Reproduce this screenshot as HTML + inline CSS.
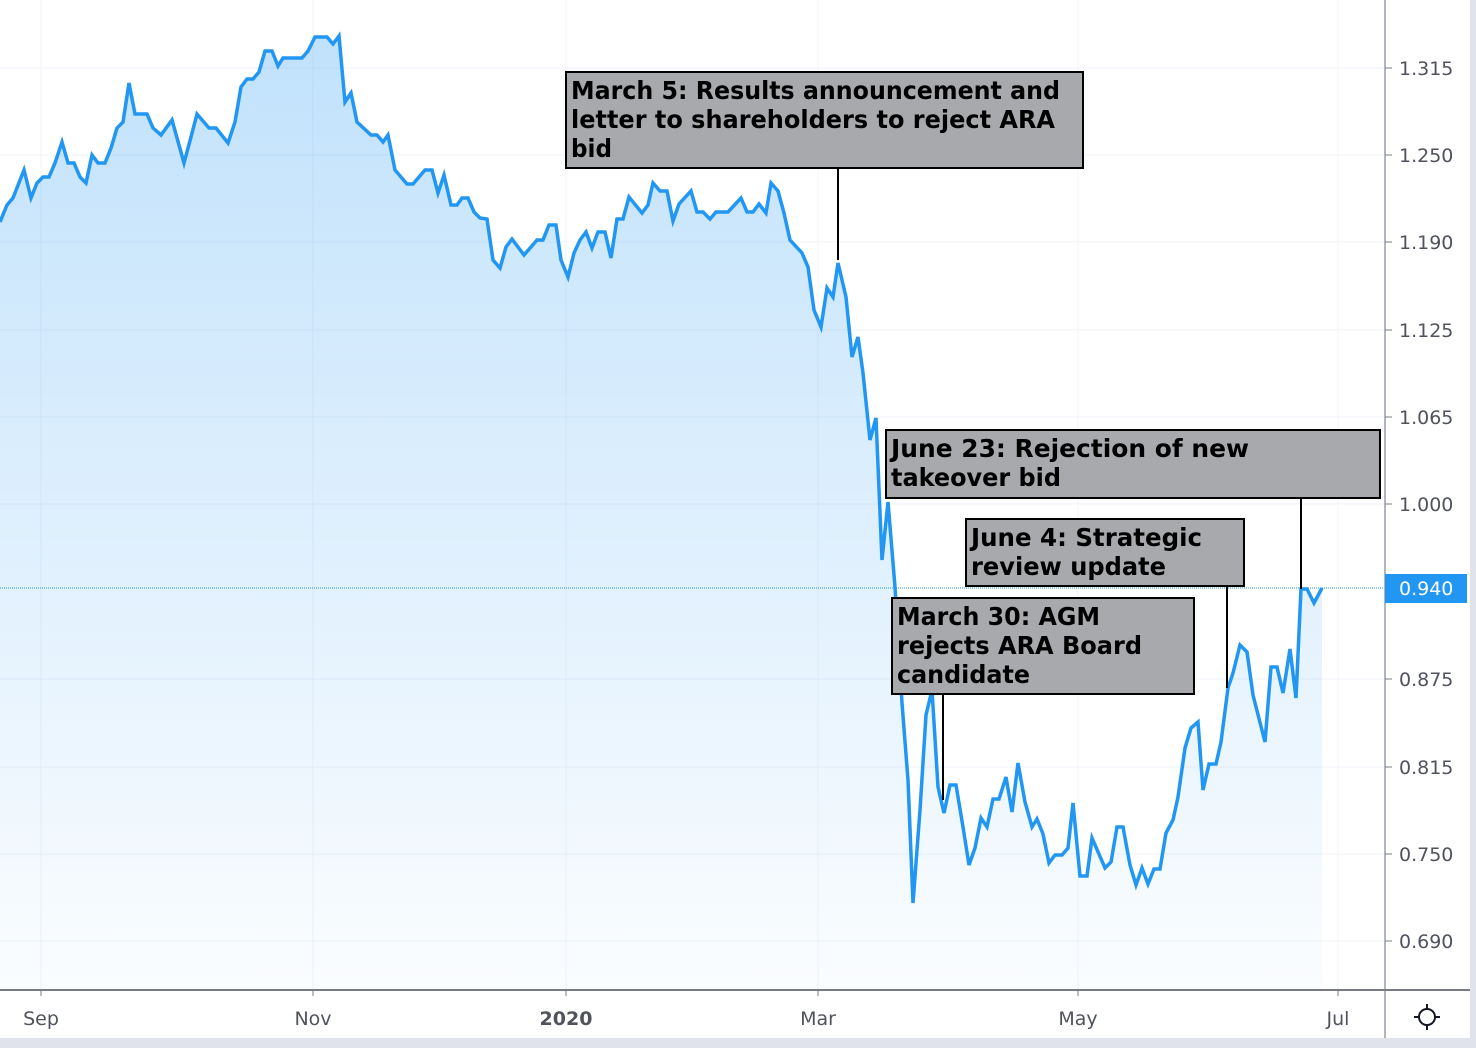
<!DOCTYPE html>
<html><head><meta charset="utf-8"><style>
html,body{margin:0;padding:0;background:#fff;width:1476px;height:1048px;overflow:hidden}
svg{display:block}
.ax{font-family:"DejaVu Sans","Liberation Sans",sans-serif;font-size:19px;fill:#50535e}
.an{font-family:"DejaVu Sans","Liberation Sans",sans-serif;font-size:25px;font-weight:bold;fill:#000}
</style></head><body>
<svg width="1476" height="1048" viewBox="0 0 1476 1048">
<defs><linearGradient id="g" x1="0" y1="0" x2="0" y2="1"><stop offset="0" stop-color="#2196f3" stop-opacity="0.28"/><stop offset="1" stop-color="#2196f3" stop-opacity="0.02"/></linearGradient></defs>
<g stroke="#f0f3fa" stroke-width="1">
<line x1="0" y1="68" x2="1385" y2="68"/><line x1="0" y1="155" x2="1385" y2="155"/><line x1="0" y1="242" x2="1385" y2="242"/><line x1="0" y1="330" x2="1385" y2="330"/><line x1="0" y1="417" x2="1385" y2="417"/><line x1="0" y1="504" x2="1385" y2="504"/><line x1="0" y1="679" x2="1385" y2="679"/><line x1="0" y1="767" x2="1385" y2="767"/><line x1="0" y1="854" x2="1385" y2="854"/><line x1="0" y1="941" x2="1385" y2="941"/>
<line x1="41" y1="0" x2="41" y2="990"/><line x1="313" y1="0" x2="313" y2="990"/><line x1="566" y1="0" x2="566" y2="990"/><line x1="818" y1="0" x2="818" y2="990"/><line x1="1078" y1="0" x2="1078" y2="990"/><line x1="1338" y1="0" x2="1338" y2="990"/>
</g>
<polygon fill="url(#g)" points="0,990 0,222 7,205 13,198 24,170 31,198 37,183 43,177 49,177 55,163 62,142 68,163 74,163 80,177 86,183 92,155 98,163 105,163 111,148 117,128 123,122 129,83 135,114 147,114 153,128 161,135 172,120 184,163 191,137 197,114 209,128 216,128 228,143 235,122 241,87 247,79 253,79 259,72 265,51 272,51 278,66 283,58 302,58 308,51 315,37 327,37 333,44 339,36 345,102 351,93 357,122 371,135 377,135 383,142 388,135 395,170 407,184 413,184 425,170 432,170 438,193 444,175 451,205 457,205 462,198 468,198 474,212 480,218 487,219 493,260 500,268 506,247 512,239 524,255 537,240 543,240 549,225 556,225 561,260 568,277 574,253 580,240 586,232 592,248 598,232 605,232 611,258 617,219 623,219 629,197 642,213 648,205 653,183 660,191 667,191 673,221 679,204 691,191 697,212 703,212 710,219 716,212 728,212 741,198 747,212 753,212 759,204 766,213 771,183 778,191 784,213 790,240 802,253 808,267 814,310 821,327 827,288 833,297 838,263 846,297 852,357 858,337 863,373 870,440 876,418 882,560 888,502 895,587 902,703 908,780 913,903 920,810 926,715 932,690 938,787 944,813 950,785 956,785 963,827 969,865 975,848 981,818 987,827 993,799 999,799 1006,777 1012,812 1018,763 1025,802 1032,827 1037,819 1043,834 1049,863 1055,855 1062,855 1068,848 1073,803 1080,876 1087,876 1092,838 1105,868 1111,862 1117,827 1123,827 1130,865 1136,885 1142,868 1148,884 1154,869 1160,869 1166,833 1173,820 1178,797 1185,748 1191,728 1198,722 1203,790 1209,764 1216,764 1221,742 1228,688 1233,673 1240,645 1247,652 1253,695 1265,742 1271,667 1277,667 1283,693 1290,649 1296,698 1301,589 1307,589 1314,603 1322,588 1322,990"/>
<line x1="0" y1="588" x2="1385" y2="588" stroke="#2196f3" stroke-width="1" stroke-dasharray="1,1"/>
<polyline fill="none" stroke="#2196f3" stroke-width="3.5" stroke-linejoin="miter" points="0,222 7,205 13,198 24,170 31,198 37,183 43,177 49,177 55,163 62,142 68,163 74,163 80,177 86,183 92,155 98,163 105,163 111,148 117,128 123,122 129,83 135,114 147,114 153,128 161,135 172,120 184,163 191,137 197,114 209,128 216,128 228,143 235,122 241,87 247,79 253,79 259,72 265,51 272,51 278,66 283,58 302,58 308,51 315,37 327,37 333,44 339,36 345,102 351,93 357,122 371,135 377,135 383,142 388,135 395,170 407,184 413,184 425,170 432,170 438,193 444,175 451,205 457,205 462,198 468,198 474,212 480,218 487,219 493,260 500,268 506,247 512,239 524,255 537,240 543,240 549,225 556,225 561,260 568,277 574,253 580,240 586,232 592,248 598,232 605,232 611,258 617,219 623,219 629,197 642,213 648,205 653,183 660,191 667,191 673,221 679,204 691,191 697,212 703,212 710,219 716,212 728,212 741,198 747,212 753,212 759,204 766,213 771,183 778,191 784,213 790,240 802,253 808,267 814,310 821,327 827,288 833,297 838,263 846,297 852,357 858,337 863,373 870,440 876,418 882,560 888,502 895,587 902,703 908,780 913,903 920,810 926,715 932,690 938,787 944,813 950,785 956,785 963,827 969,865 975,848 981,818 987,827 993,799 999,799 1006,777 1012,812 1018,763 1025,802 1032,827 1037,819 1043,834 1049,863 1055,855 1062,855 1068,848 1073,803 1080,876 1087,876 1092,838 1105,868 1111,862 1117,827 1123,827 1130,865 1136,885 1142,868 1148,884 1154,869 1160,869 1166,833 1173,820 1178,797 1185,748 1191,728 1198,722 1203,790 1209,764 1216,764 1221,742 1228,688 1233,673 1240,645 1247,652 1253,695 1265,742 1271,667 1277,667 1283,693 1290,649 1296,698 1301,589 1307,589 1314,603 1322,588"/>
<g stroke="#000" stroke-width="2">
<line x1="838" y1="168" x2="838" y2="260"/>
<line x1="1301" y1="498" x2="1301" y2="589"/>
<line x1="1227" y1="586" x2="1227" y2="688"/>
<line x1="943" y1="694" x2="943" y2="800"/>
</g>
<rect x="566" y="72" width="517" height="96" fill="#a8a9ad" stroke="#000" stroke-width="2"/>
<text class="an" x="571" y="99" textLength="489" lengthAdjust="spacingAndGlyphs">March 5: Results announcement and</text>
<text class="an" x="571" y="128" textLength="484" lengthAdjust="spacingAndGlyphs">letter to shareholders to reject ARA</text>
<text class="an" x="571" y="157" textLength="41" lengthAdjust="spacingAndGlyphs">bid</text>
<rect x="886" y="430" width="494" height="68" fill="#a8a9ad" stroke="#000" stroke-width="2"/>
<text class="an" x="891" y="457" textLength="358" lengthAdjust="spacingAndGlyphs">June 23: Rejection of new</text>
<text class="an" x="891" y="486" textLength="170" lengthAdjust="spacingAndGlyphs">takeover bid</text>
<rect x="966" y="519" width="278" height="67" fill="#a8a9ad" stroke="#000" stroke-width="2"/>
<text class="an" x="971" y="546" textLength="231" lengthAdjust="spacingAndGlyphs">June 4: Strategic</text>
<text class="an" x="971" y="575" textLength="195" lengthAdjust="spacingAndGlyphs">review update</text>
<rect x="892" y="598" width="302" height="96" fill="#a8a9ad" stroke="#000" stroke-width="2"/>
<text class="an" x="897" y="625" textLength="203" lengthAdjust="spacingAndGlyphs">March 30: AGM</text>
<text class="an" x="897" y="654" textLength="245" lengthAdjust="spacingAndGlyphs">rejects ARA Board</text>
<text class="an" x="897" y="683" textLength="133" lengthAdjust="spacingAndGlyphs">candidate</text>
<rect x="1386" y="0" width="90" height="1048" fill="#fff"/>
<rect x="0" y="991" width="1476" height="57" fill="#fff"/>
<line x1="1385" y1="0" x2="1385" y2="1038" stroke="#b2b5be" stroke-width="2"/>
<line x1="0" y1="990" x2="1470" y2="990" stroke="#787b86" stroke-width="2"/>
<rect x="1470" y="0" width="6" height="1048" fill="#e0e3eb"/>
<rect x="0" y="1038" width="1476" height="10" fill="#e0e3eb"/>
<g stroke="#787b86" stroke-width="1">
<line x1="1385" y1="68" x2="1392" y2="68"/><line x1="1385" y1="155" x2="1392" y2="155"/><line x1="1385" y1="242" x2="1392" y2="242"/><line x1="1385" y1="330" x2="1392" y2="330"/><line x1="1385" y1="417" x2="1392" y2="417"/><line x1="1385" y1="504" x2="1392" y2="504"/><line x1="1385" y1="679" x2="1392" y2="679"/><line x1="1385" y1="767" x2="1392" y2="767"/><line x1="1385" y1="854" x2="1392" y2="854"/><line x1="1385" y1="941" x2="1392" y2="941"/>
<line x1="41" y1="990" x2="41" y2="996"/><line x1="313" y1="990" x2="313" y2="996"/><line x1="566" y1="990" x2="566" y2="996"/><line x1="818" y1="990" x2="818" y2="996"/><line x1="1078" y1="990" x2="1078" y2="996"/><line x1="1338" y1="990" x2="1338" y2="996"/>
</g>
<g class="ax">
<text x="1399" y="75">1.315</text><text x="1399" y="162">1.250</text><text x="1399" y="249">1.190</text><text x="1399" y="337">1.125</text><text x="1399" y="424">1.065</text><text x="1399" y="511">1.000</text><text x="1399" y="686">0.875</text><text x="1399" y="774">0.815</text><text x="1399" y="861">0.750</text><text x="1399" y="948">0.690</text>
</g>
<rect x="1385" y="574" width="82" height="29" fill="#2196f3"/>
<text class="ax" x="1399" y="595" style="fill:#fff">0.940</text>
<g class="ax" text-anchor="middle">
<text x="41" y="1025">Sep</text><text x="313" y="1025">Nov</text><text x="566" y="1025" font-weight="bold">2020</text><text x="818" y="1025">Mar</text><text x="1078" y="1025">May</text><text x="1338" y="1025">Jul</text>
</g>
<g stroke="#131722" stroke-width="2" fill="none">
<circle cx="1427" cy="1017" r="8"/>
<line x1="1427" y1="1004" x2="1427" y2="1009"/><line x1="1427" y1="1025" x2="1427" y2="1030"/><line x1="1414" y1="1017" x2="1419" y2="1017"/><line x1="1435" y1="1017" x2="1440" y2="1017"/>
</g>
</svg>
</body></html>
